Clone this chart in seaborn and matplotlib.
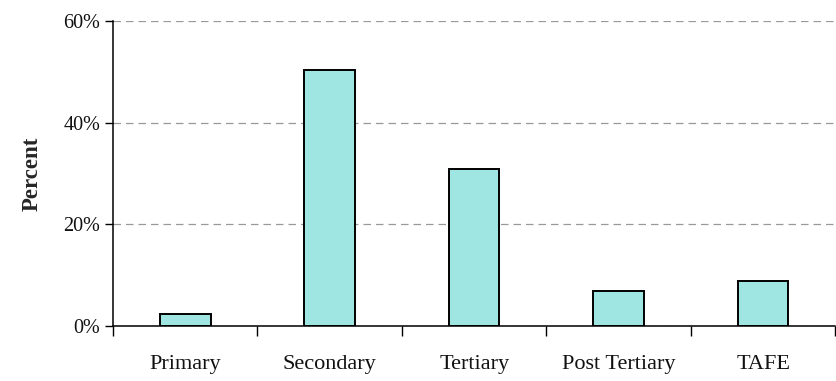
import pandas as pd
import seaborn as sns
import matplotlib.pyplot as plt
import matplotlib.ticker as mtick

categories = ['Primary', 'Secondary', 'Tertiary', 'Post Tertiary', 'TAFE']
percent = [2.4, 50.4, 30.9, 6.9, 8.9]

df = pd.DataFrame({'Level': categories, 'Percent': percent})

sns.set_theme(style="white")
plt.rcParams['font.family'] = ['Liberation Serif', 'DejaVu Serif']

fig = plt.figure(figsize=(8.37, 3.81), dpi=100)
ax = fig.add_axes([0.135, 0.1444, 0.863, 0.8005])

sns.barplot(data=df, x='Level', y='Percent', ax=ax, color='#9fe6e3',
            width=0.35, edgecolor='black', linewidth=1.4, saturation=1)

ax.set_ylim(0, 60)
ax.set_xlim(-0.5, 4.5)
ax.yaxis.set_major_locator(mtick.MultipleLocator(20))
ax.yaxis.set_major_formatter(mtick.PercentFormatter(decimals=0))
ax.set_axisbelow(True)
ax.yaxis.grid(True, linestyle=(0, (6, 4)), color='#999999', linewidth=0.9)
ax.xaxis.grid(False)

# tick marks between categories, labels centered under bars
ax.set_xticks([-0.5, 0.5, 1.5, 2.5, 3.5, 4.5], minor=True)
ax.tick_params(axis='x', which='minor', length=7, width=1, color='black', direction='out', bottom=True)
ax.tick_params(axis='x', which='major', length=0, pad=21, labelsize=16, labelcolor='#111111')
ax.tick_params(axis='y', which='major', length=6, width=1, color='black', direction='out', left=True,
               labelsize=14.5, labelcolor='#111111', pad=3)

for side in ['top', 'right']:
    ax.spines[side].set_visible(False)
for side in ['left', 'bottom']:
    ax.spines[side].set_color('black')
    ax.spines[side].set_linewidth(1.1)

ax.set_xlabel('')
ax.set_ylabel('Percent', fontsize=16.5, fontweight='bold', labelpad=15)

plt.savefig('out.png', dpi=100)
